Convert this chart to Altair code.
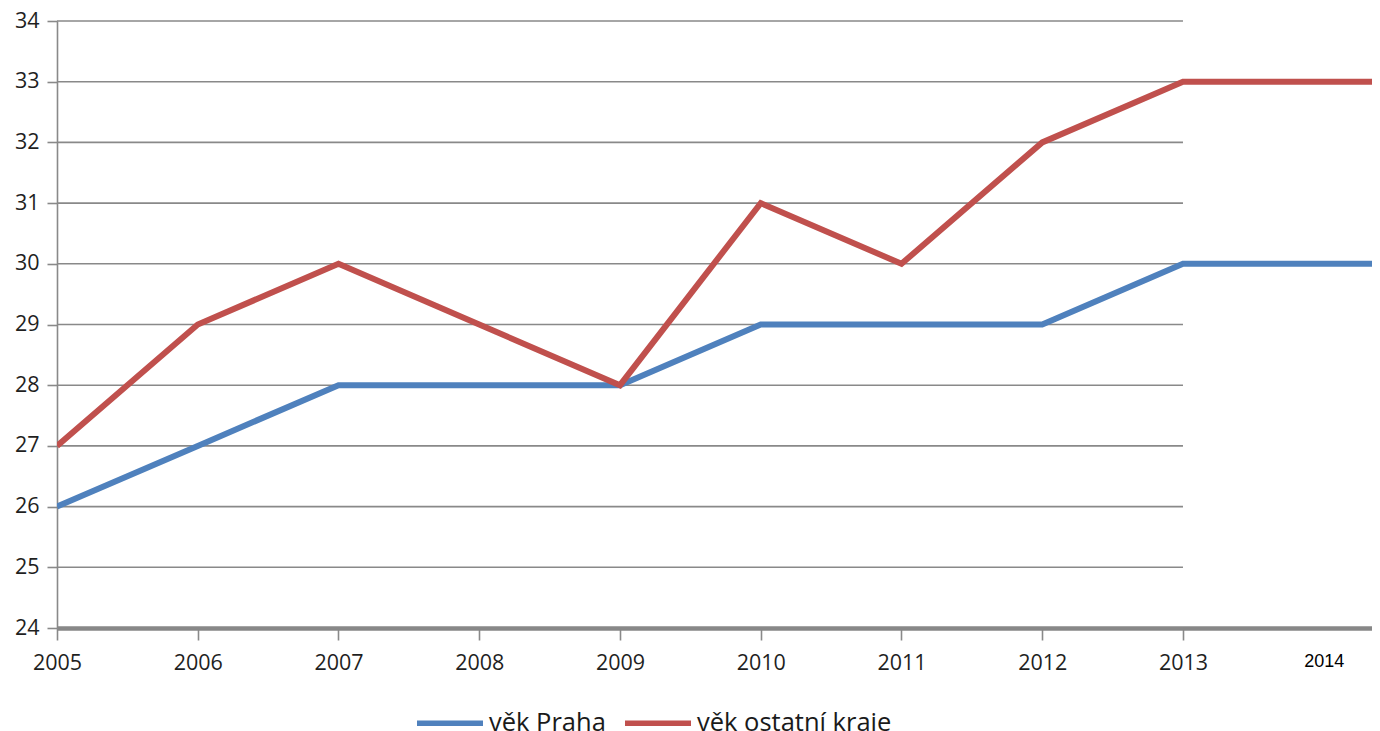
import altair as alt
import pandas as pd

years = [2005, 2006, 2007, 2008, 2009, 2010, 2011, 2012, 2013]
praha = [26, 27, 28, 28, 28, 29, 29, 29, 30]
ostatni = [27, 29, 30, 29, 28, 31, 30, 32, 33]
series_names = ["věk Praha", "věk ostatní kraje"]
colors = ["#4F81BD", "#C0504D"]
x_tick_labels = [2005, 2006, 2007, 2008, 2009, 2010, 2011, 2012, 2013, 2014]
y_ticks = [24, 25, 26, 27, 28, 29, 30, 31, 32, 33, 34]
x_end = 2014.4  # lines continue flat to the right edge

rows = []
for name, vals in zip(series_names, [praha, ostatni]):
    for y, v in zip(years, vals):
        rows.append({"year": y, "value": v, "series": name})
    rows.append({"year": x_end, "value": vals[-1], "series": name})
df = pd.DataFrame(rows)

grid_df = pd.DataFrame({"y": y_ticks, "x0": years[0], "x1": years[-1]})

GRID = "#898989"
x_scale = alt.Scale(domain=[2005, 2014.343], nice=False, zero=False)
y_scale = alt.Scale(domain=[24, 34], nice=False, zero=False)

grid = alt.Chart(grid_df).mark_rule(color=GRID, strokeWidth=1.6).encode(
    x=alt.X("x0:Q", scale=x_scale),
    x2="x1:Q",
    y=alt.Y("y:Q", scale=y_scale),
)

lines = alt.Chart(df).mark_line(strokeWidth=6, clip=True).encode(
    x=alt.X(
        "year:Q",
        scale=x_scale,
        axis=alt.Axis(
            title=None,
            values=x_tick_labels,
            format="d",
            grid=False,
            domainColor="#878787",
            domainWidth=4.5,
            tickColor=alt.condition("datum.value == 2014", alt.value("transparent"), alt.value(GRID)),
            tickWidth=1.6,
            tickSize=12,
            labelFlush=False,
            labelOverlap=False,
            labelPadding=12,
            labelFont=alt.condition("datum.value == 2014", alt.value("Liberation Sans"), alt.value("Open Sans")),
            labelFontSize=alt.condition("datum.value == 2014", alt.value(18), alt.value(21.5)),
            labelColor=alt.condition("datum.value == 2014", alt.value("#000000"), alt.value("#1f1f1f")),
        ),
    ),
    y=alt.Y(
        "value:Q",
        scale=y_scale,
        axis=alt.Axis(
            title=None,
            values=y_ticks,
            format="d",
            grid=False,
            domainColor=GRID,
            domainWidth=1.6,
            tickColor=GRID,
            tickWidth=1.6,
            tickSize=10,
            labelFont="Open Sans",
            labelFontSize=21.5,
            labelColor="#1f1f1f",
            labelPadding=8,
        ),
    ),
    color=alt.Color(
        "series:N",
        scale=alt.Scale(domain=series_names, range=colors),
        sort=series_names,
        legend=alt.Legend(
            title=None,
            orient="none",
            legendX=357,
            legendY=666,
            direction="horizontal",
            symbolType="stroke",
            symbolSize=4356,
            symbolStrokeWidth=5.5,
            labelFont="Open Sans",
            labelFontSize=25.5,
            labelColor="#1a1a1a",
            labelOffset=3,
            labelLimit=500,
            columnPadding=8,
        ),
    ),
    order=alt.Order("series:N"),
)

chart = alt.layer(grid, lines).properties(
    width=1315,
    height=607,
    padding={"left": 49, "top": 13, "right": 0, "bottom": 103},
    autosize=alt.AutoSizeParams(type="none"),
).configure_view(stroke=None)

chart.save("out.html", embed_options={"renderer": "svg", "actions": False})
